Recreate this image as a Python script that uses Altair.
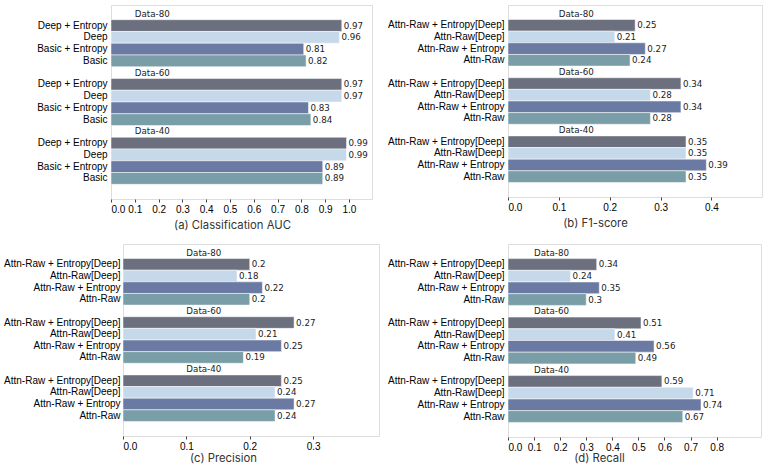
import altair as alt
import pandas as pd

groups = ["Data-80", "Data-60", "Data-40"]
methods_basic = ["Deep + Entropy", "Deep", "Basic + Entropy", "Basic"]
methods_attn = ["Attn-Raw + Entropy[Deep]", "Attn-Raw[Deep]", "Attn-Raw + Entropy", "Attn-Raw"]

auc = [[0.97, 0.96, 0.81, 0.82], [0.97, 0.97, 0.83, 0.84], [0.99, 0.99, 0.89, 0.89]]
f1 = [[0.25, 0.21, 0.27, 0.24], [0.34, 0.28, 0.34, 0.28], [0.35, 0.35, 0.39, 0.35]]
precision = [[0.2, 0.18, 0.22, 0.2], [0.27, 0.21, 0.25, 0.19], [0.25, 0.24, 0.27, 0.24]]
recall = [[0.34, 0.24, 0.35, 0.3], [0.51, 0.41, 0.56, 0.49], [0.59, 0.71, 0.74, 0.67]]

ticks_auc = [0.0, 0.1, 0.2, 0.3, 0.4, 0.5, 0.6, 0.7, 0.8, 0.9, 1.0]
ticks_f1 = [0.0, 0.1, 0.2, 0.3, 0.4]
ticks_prec = [0.0, 0.1, 0.2, 0.3]
ticks_rec = [0.0, 0.1, 0.2, 0.3, 0.4, 0.5, 0.6, 0.7, 0.8]

group_label_x = 0.1
colors = ["#6c707e", "#c6d9ea", "#6a7aa2", "#7a9ea8"]

LABEL_FONT = "DejaVu Sans"
LABEL_SIZE = 8.7
TITLE_FONT = "Inter"
TITLE_SIZE = 11.3


def panel(title, methods, values, xmax, ticks, width, height, tx, ty, ext, lpad=4):
    rows = []
    domain = []
    for gi, g in enumerate(groups):
        domain.append(g + "|")
        for mi, m in enumerate(methods):
            key = g + "|" + m
            domain.append(key)
            rows.append({"key": key, "mi": str(mi), "value": values[gi][mi],
                         "txt": str(values[gi][mi])})
    domain.append("end|")
    bars_df = pd.DataFrame(rows)
    lab_df = pd.DataFrame({"key": [g + "|" for g in groups], "txt": groups,
                           "value": [group_label_x] * len(groups)})

    yscale = alt.Scale(domain=domain, paddingInner=0, paddingOuter=0.25)
    xscale = alt.Scale(domain=[0, xmax], nice=False, zero=True)
    xaxis = alt.Axis(values=ticks, format=".1f", title=title, titleX=tx, titleY=ty,
                     titleBaseline="middle", titleAlign="center", grid=False,
                     titleFont=TITLE_FONT, titleFontSize=TITLE_SIZE, titleFontWeight=400,
                     titleColor="#333", labelOverlap=False, tickCount=len(ticks),
                     domain=False, tickSize=3, tickColor="#444", labelPadding=2)
    yaxis = alt.Axis(title=None, labelExpr="split(datum.value, '|')[1]", ticks=False,
                     domain=False, labelPadding=lpad, minExtent=ext, maxExtent=ext,
                     labelLimit=0, grid=False, labelOverlap=False)
    x_enc = alt.X("value:Q", scale=xscale, axis=xaxis)
    y_enc = alt.Y("key:N", scale=yscale, sort=domain, axis=yaxis)

    bars = alt.Chart(bars_df).mark_bar(stroke="white", strokeWidth=0.5).encode(
        x=x_enc, y=y_enc,
        color=alt.Color("mi:N", scale=alt.Scale(domain=["0", "1", "2", "3"], range=colors),
                        legend=None),
    )
    vals = alt.Chart(bars_df).mark_text(align="left", baseline="middle", dx=2,
                                        font=LABEL_FONT, fontSize=LABEL_SIZE,
                                        color="#222").encode(x=x_enc, y=y_enc, text="txt:N")
    labs = alt.Chart(lab_df).mark_text(align="left", baseline="middle",
                                       font=LABEL_FONT, fontSize=LABEL_SIZE,
                                       color="#222").encode(x=x_enc, y=y_enc, text="txt:N")
    return alt.layer(bars, vals, labs).properties(width=width, height=height)


def spacer():
    return alt.Chart(pd.DataFrame({"s": [0]})).mark_rule(strokeWidth=0, opacity=0).encode(
        x=alt.value(0), y=alt.value(0), y2=alt.value(0)
    ).properties(width=1, height=10, view=alt.ViewBackground(stroke="transparent"))


pa = panel("(a) Classification AUC", methods_basic, auc, 1.097, ticks_auc, 261, 194, 121, 26, 107)
pb = panel("(b) F1-score", methods_attn, f1, 0.4994, ticks_f1, 254, 192, 87, 26, 128)
pc = panel("(c) Precision", methods_attn, precision, 0.404, ticks_prec, 256, 192, 100, 22, 117, lpad=3)
pd_ = panel("(d) Recall", methods_attn, recall, 0.97, ticks_rec, 253, 193, 91, 21.5, 121)

inner1 = alt.hconcat(pa, pb, spacing=6)
inner2 = alt.hconcat(pc, pd_, spacing=6)
row1 = alt.hconcat(spacer(), inner1, spacing=0)
row2 = alt.hconcat(spacer(), inner2, spacing=0)
chart = alt.vconcat(row1, row2, spacing=12).resolve_scale(
    x="independent", y="independent", color="independent"
).properties(
    padding={"left": 0, "top": 4, "right": 0, "bottom": 0}
).configure_view(
    stroke="#8a8a8a", strokeWidth=1
).configure_axis(
    labelFont=LABEL_FONT, labelFontSize=LABEL_SIZE, labelColor="#222",
).configure(background="white")

chart.save("out.html", embed_options={"renderer": "svg", "actions": False})
